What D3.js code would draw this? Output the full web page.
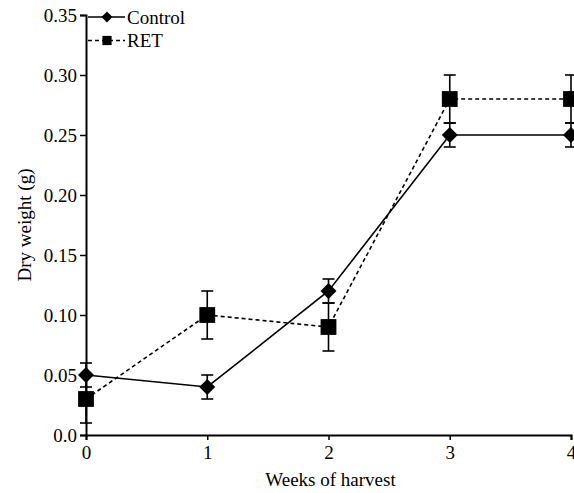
<!DOCTYPE html>
<html>
<head>
<meta charset="utf-8">
<script src="https://cdn.jsdelivr.net/npm/d3@7"></script>
<style>
  body { margin: 0; background: #fff; }
  svg text { font-family: 'Liberation Serif', 'DejaVu Serif', serif !important; fill: #000; }
</style>
</head>
<body>
<div id="chart"></div>
<script>
// Chart data
var weeks = [0, 1, 2, 3, 4];
var controlValues = [0.05, 0.04, 0.12, 0.25, 0.25];
var controlErrors = [0.01, 0.01, 0.01, 0.01, 0.01];
var retValues = [0.03, 0.10, 0.09, 0.28, 0.28];
var retErrors = [0.02, 0.02, 0.02, 0.02, 0.02];
var yTicks = [0, 0.05, 0.10, 0.15, 0.20, 0.25, 0.30, 0.35];

var svgWidth = 574;
var svgHeight = 493;

var margin = { top: 15, right: 3, bottom: 58, left: 86 };
var width = svgWidth - margin.left - margin.right;
var height = svgHeight - margin.top - margin.bottom;

var svg = d3.select("#chart")
  .append("svg")
  .attr("width", svgWidth)
  .attr("height", svgHeight)
  .style("font-family", "'Liberation Serif', 'DejaVu Serif', serif");

var chartGroup = svg.append("g")
  .attr("transform", `translate(${margin.left}, ${margin.top})`);

var xScale = d3.scaleLinear().domain([0, 4]).range([0, width]);
var yScale = d3.scaleLinear().domain([0, 0.35]).range([height, 0]);

// Axes
var bottomAxis = d3.axisBottom(xScale)
  .tickValues(weeks)
  .tickFormat(d3.format("d"))
  .tickSizeOuter(0)
  .tickSize(5)
  .tickPadding(6);

var leftAxis = d3.axisLeft(yScale)
  .tickValues(yTicks)
  .tickFormat(d => d === 0 ? "0.0" : d3.format(".2f")(d))
  .tickSizeOuter(0)
  .tickSize(6)
  .tickPadding(3);

var xAxis = chartGroup.append("g")
  .attr("transform", `translate(0, ${height})`)
  .call(bottomAxis);

var yAxis = chartGroup.append("g")
  .call(leftAxis);

[xAxis, yAxis].forEach(function(ax) {
  ax.attr("font-family", null).attr("font-size", null);
  ax.select(".domain").attr("stroke", "#000").attr("stroke-width", 2);
  ax.selectAll(".tick line").attr("stroke", "#000").attr("stroke-width", 1.5);
  ax.selectAll(".tick text")
    .attr("font-size", "19px")
    .attr("fill", "#000");
});

// Axis labels
chartGroup.append("text")
  .attr("x", width / 2 + 2)
  .attr("y", height + 51)
  .attr("text-anchor", "middle")
  .attr("font-size", "19px")
  .text("Weeks of harvest");

chartGroup.append("text")
  .attr("transform", "rotate(-90)")
  .attr("x", -height / 2)
  .attr("y", -55)
  .attr("text-anchor", "middle")
  .attr("font-size", "19px")
  .text("Dry weight (g)");

// Build series
var series = [
  { name: "Control", values: controlValues, errors: controlErrors, dash: null, marker: "diamond" },
  { name: "RET", values: retValues, errors: retErrors, dash: "4,3", marker: "square" }
];

var line = d3.line()
  .x(d => xScale(d.week))
  .y(d => yScale(d.value));

// diamond = square rotated 45 degrees
var diamond = d3.symbol().type(d3.symbolSquare).size(128);
var square = d3.symbol().type(d3.symbolSquare).size(250);
var diamondSmall = d3.symbol().type(d3.symbolSquare).size(61);
var squareSmall = d3.symbol().type(d3.symbolSquare).size(85);

// Draw RET first so control sits on top
series.slice().reverse().forEach(function(s) {
  var points = weeks.map((w, i) => ({ week: w, value: s.values[i], err: s.errors[i] }));

  chartGroup.append("path")
    .datum(points)
    .attr("d", line)
    .attr("fill", "none")
    .attr("stroke", "#000")
    .attr("stroke-width", 1.6)
    .attr("stroke-dasharray", s.dash);

  // Error bars
  var eb = chartGroup.append("g").selectAll("g")
    .data(points)
    .enter()
    .append("g");

  eb.append("line")
    .attr("x1", d => xScale(d.week))
    .attr("x2", d => xScale(d.week))
    .attr("y1", d => yScale(d.value - d.err))
    .attr("y2", d => yScale(d.value + d.err))
    .attr("stroke", "#000")
    .attr("stroke-width", 1.6);

  eb.append("line")
    .attr("x1", d => xScale(d.week) - 6)
    .attr("x2", d => xScale(d.week) + 6)
    .attr("y1", d => yScale(d.value + d.err))
    .attr("y2", d => yScale(d.value + d.err))
    .attr("stroke", "#000")
    .attr("stroke-width", 1.6);

  eb.append("line")
    .attr("x1", d => xScale(d.week) - 6)
    .attr("x2", d => xScale(d.week) + 6)
    .attr("y1", d => yScale(d.value - d.err))
    .attr("y2", d => yScale(d.value - d.err))
    .attr("stroke", "#000")
    .attr("stroke-width", 1.6);

  // Markers
  chartGroup.append("g").selectAll("path")
    .data(points)
    .enter()
    .append("path")
    .attr("d", s.marker === "diamond" ? diamond : square)
    .attr("transform", d => `translate(${xScale(d.week)}, ${yScale(d.value)})` +
      (s.marker === "diamond" ? " rotate(45)" : ""))
    .attr("fill", "#000");
});

// Legend
var legend = svg.append("g").attr("transform", "translate(88, 17)");

series.forEach(function(s, i) {
  var row = legend.append("g").attr("transform", `translate(0, ${i * 23.5})`);
  row.append("line")
    .attr("x1", 0).attr("x2", 37)
    .attr("y1", 0).attr("y2", 0)
    .attr("stroke", "#000")
    .attr("stroke-width", 1.6)
    .attr("stroke-dasharray", s.dash);
  row.append("path")
    .attr("d", s.marker === "diamond" ? diamondSmall : squareSmall)
    .attr("transform", "translate(19, 0)" + (s.marker === "diamond" ? " rotate(45)" : ""))
    .attr("fill", "#000");
  row.append("text")
    .attr("x", 39)
    .attr("y", 6.5)
    .attr("font-size", "19px")
    .text(s.name);
});
</script>
</body>
</html>
